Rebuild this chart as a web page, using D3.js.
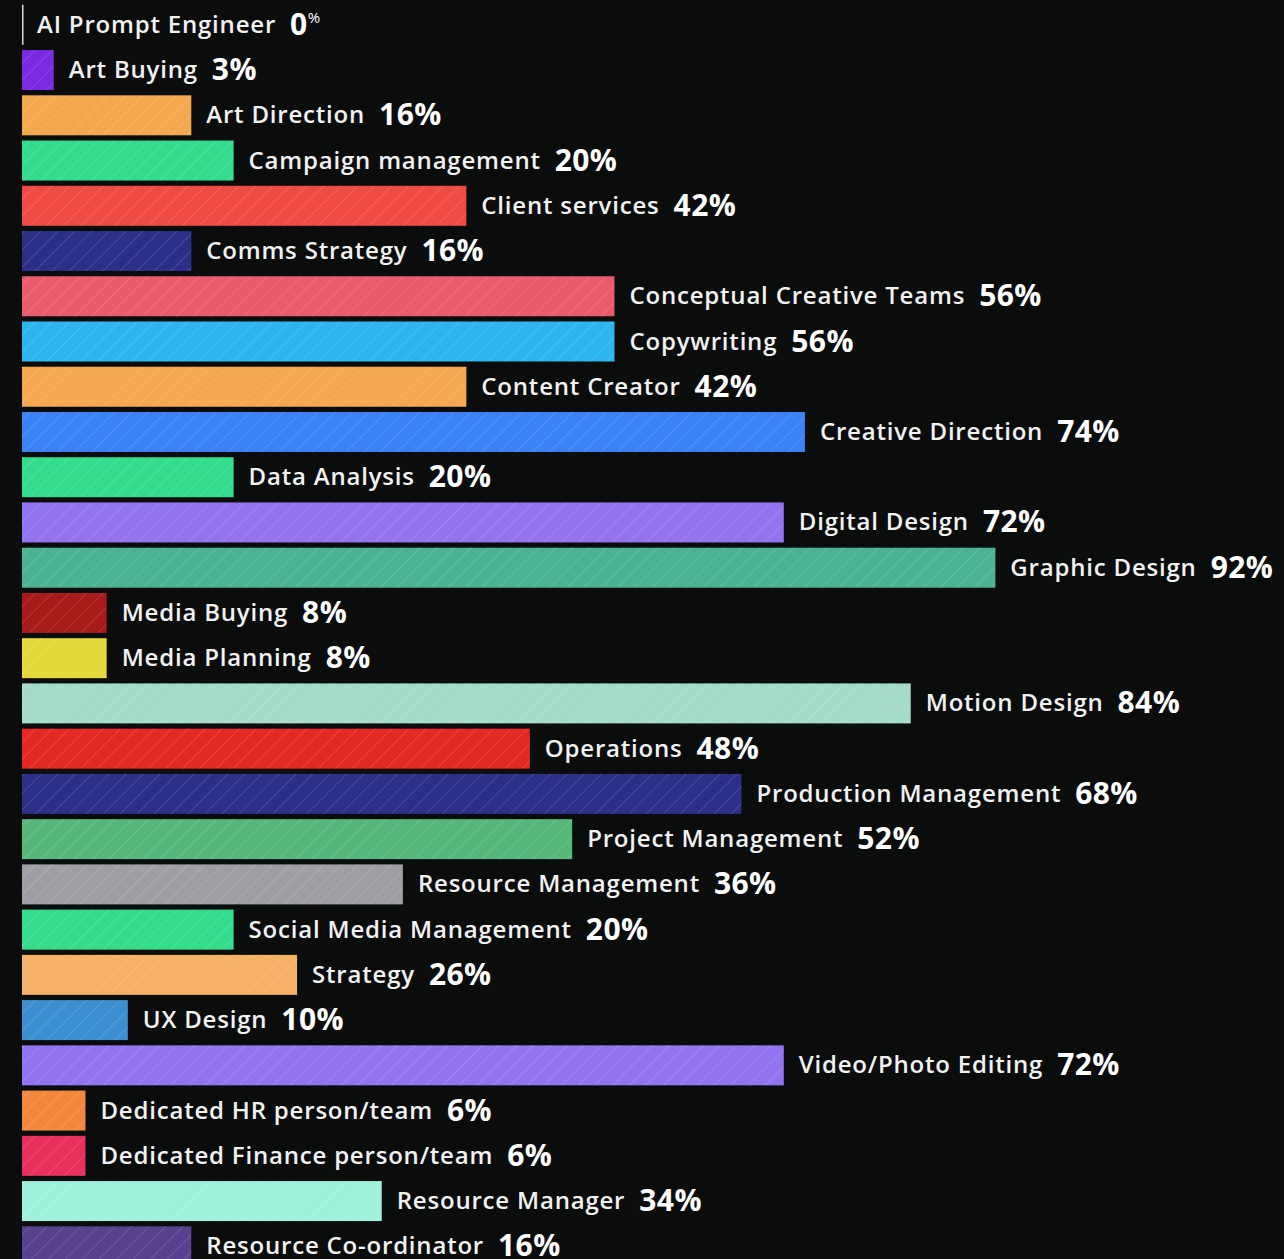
<!DOCTYPE html>
<html>
<head>
<meta charset="utf-8">
<script src="https://cdn.jsdelivr.net/npm/d3@7"></script>
<style>
  html, body { margin: 0; padding: 0; background: #0b0d0d; }
  svg { display: block; }
</style>
</head>
<body>
<svg id="chart" width="1284" height="1259"></svg>
<script>
// Roles and share of respondents (%)
const roles = [
  "AI Prompt Engineer", "Art Buying", "Art Direction", "Campaign management",
  "Client services", "Comms Strategy", "Conceptual Creative Teams", "Copywriting",
  "Content Creator", "Creative Direction", "Data Analysis", "Digital Design",
  "Graphic Design", "Media Buying", "Media Planning", "Motion Design",
  "Operations", "Production Management", "Project Management", "Resource Management",
  "Social Media Management", "Strategy", "UX Design", "Video/Photo Editing",
  "Dedicated HR person/team", "Dedicated Finance person/team", "Resource Manager",
  "Resource Co-ordinator"
];
const shares = [
  0, 3, 16, 20, 42, 16, 56, 56, 42, 74, 20, 72, 92, 8, 8, 84,
  48, 68, 52, 36, 20, 26, 10, 72, 6, 6, 34, 16
];
const barColors = [
  "#e8e8e8", "#7a2ae0", "#f5a94f", "#34dd8c", "#ef4b44", "#2b2f87", "#e95a6b", "#2db5ef",
  "#f5a84f", "#3a82f7", "#34dd8c", "#9274f1", "#4bb394", "#a71b1b", "#e4d93a", "#a5dbca",
  "#e42925", "#2b2f87", "#57b77b", "#9e9fa4", "#34dd8c", "#f6b067", "#3b8fd1", "#9274f1",
  "#f3883d", "#e8305d", "#9ef2dc", "#56428f"
];

const svg = d3.select("#chart");
const W = 1284, H = 1259;

svg.append("rect").attr("width", W).attr("height", H).attr("fill", "#0b0d0d");

// Diagonal hatch overlay shared by all bars
const defs = svg.append("defs");
const pat = defs.append("pattern")
  .attr("id", "hatch")
  .attr("patternUnits", "userSpaceOnUse")
  .attr("width", 12).attr("height", 12)
  .attr("patternTransform", "rotate(45)");
pat.append("line")
  .attr("x1", 0).attr("y1", 0).attr("x2", 0).attr("y2", 12)
  .attr("stroke", "rgba(255,255,255,0.16)")
  .attr("stroke-width", 1.6);

const x = d3.scaleLinear().domain([0, 100]).range([22, 1080]);
const y = d3.scaleBand()
  .domain(roles)
  .range([2.2, 2.2 + 45.24 * roles.length])
  .paddingInner(0.116)
  .paddingOuter(0.058);

const rows = roles.map((r, i) => ({ role: r, value: shares[i], color: barColors[i] }));

const g = svg.append("g");

const row = g.selectAll("g.row").data(rows).join("g").attr("class", "row");

// Zero-value rows get a thin marker line instead of a bar
row.filter(d => d.value === 0).append("rect")
  .attr("x", x(0))
  .attr("y", d => y(d.role))
  .attr("width", 1.5)
  .attr("height", y.bandwidth())
  .attr("fill", "#d8d8d8");

const bars = row.filter(d => d.value > 0);
bars.append("rect")
  .attr("x", x(0))
  .attr("y", d => y(d.role))
  .attr("width", d => x(d.value) - x(0))
  .attr("height", y.bandwidth())
  .attr("fill", d => d.color);
bars.append("rect")
  .attr("x", x(0))
  .attr("y", d => y(d.role))
  .attr("width", d => x(d.value) - x(0))
  .attr("height", y.bandwidth())
  .attr("fill", "url(#hatch)");

// Role name followed by bold percentage
const font = "'Open Sans', Lato, sans-serif";
const name = row.append("text")
  .attr("x", d => x(d.value) + 15)
  .attr("y", d => y(d.role) + y.bandwidth() / 2 + 8)
  .attr("fill", "#f2f2f2")
  .attr("font-family", font)
  .attr("font-size", 24)
  .attr("font-weight", 600)
  .attr("letter-spacing", 0.8)
  .text(d => d.role);

name.each(function(d) {
  const len = this.getComputedTextLength();
  const t = d3.select(this.parentNode).append("text")
    .attr("x", x(d.value) + 15 + len + 14)
    .attr("y", y(d.role) + y.bandwidth() / 2 + 10)
    .attr("fill", "#ffffff")
    .attr("font-family", font)
    .attr("font-size", 30)
    .attr("font-weight", 700)
    .attr("letter-spacing", 0.4);
  t.append("tspan").text(d.value);
  if (d.value === 0) {
    t.append("tspan").attr("font-size", 15).attr("font-weight", 400).attr("dy", -12).text("%");
  } else {
    t.append("tspan").text("%");
  }
});
</script>
</body>
</html>
